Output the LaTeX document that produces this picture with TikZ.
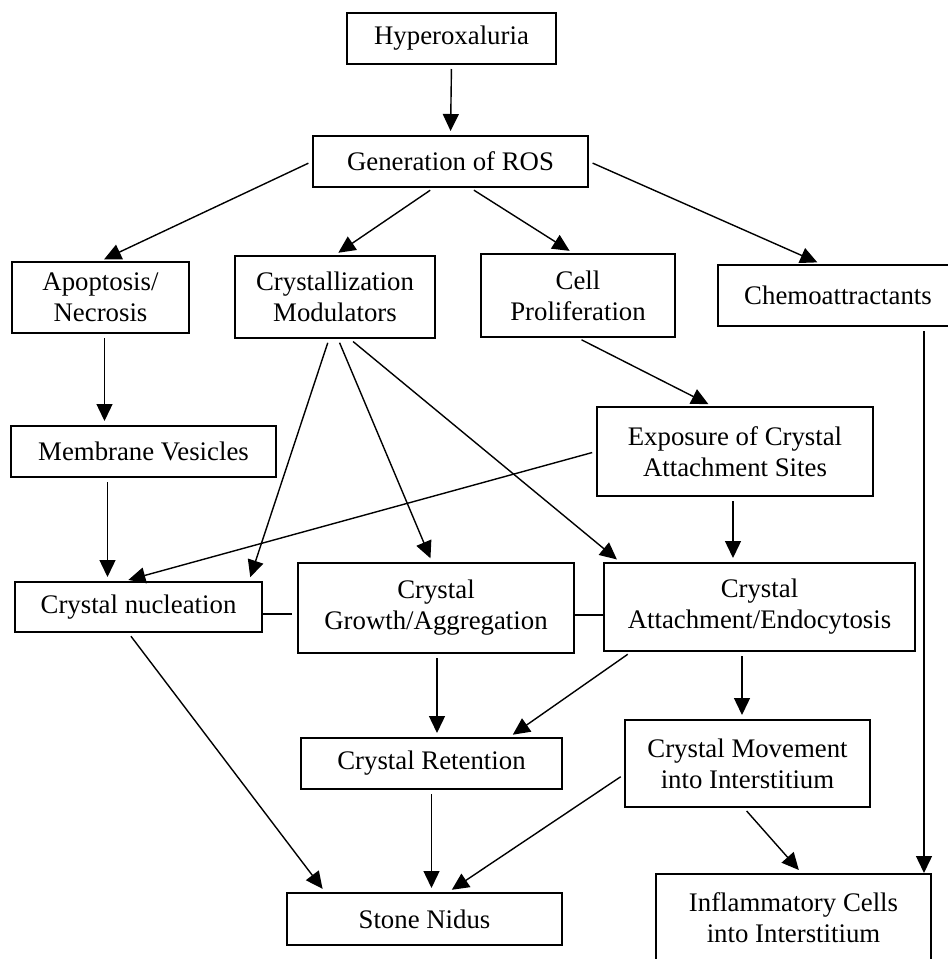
\documentclass[tikz,border=0pt]{standalone}
\usepackage{fontspec}
\setmainfont{Liberation Serif}
\usetikzlibrary{arrows.meta}
\tikzset{
  box/.style={draw, line width=1pt, inner sep=0pt, align=center,
    font=\fontsize{13.4}{15.5}\selectfont},
  arr/.style={-{Triangle[length=8.5pt,width=8pt]}, line width=0.7pt,
    shorten >=2pt, shorten <=2pt},
  link/.style={line width=0.7pt}
}

\begin{document}
\begin{tikzpicture}[x=0.5pt,y=-0.5pt]
\clip (0,0) rectangle (948,959); % picture frame
% top rows
\node[box, minimum width=104.5pt, minimum height=25.5pt] (hyp) at (451.5,38.5) {Hyperoxaluria};
\node[box, minimum width=137.5pt, minimum height=25.5pt] (ros) at (450.5,161.5) {Generation of ROS};
\node[box, minimum width=88.5pt, minimum height=35.5pt] (apo) at (100.5,297.5) {Apoptosis/\\Necrosis};
\node[box, minimum width=100pt, minimum height=41pt] (cm) at (335,297) {Crystallization\\Modulators};
\node[box, minimum width=97pt, minimum height=41.5pt] (cp) at (578,295.5) {Cell\\Proliferation};
\node[box, minimum width=120pt, minimum height=30.5pt] (chemo) at (838,295.5) {Chemoattractants};
% middle rows
\node[box, minimum width=132.5pt, minimum height=25.5pt] (mv) at (143.5,451.5) {Membrane Vesicles};
\node[box, minimum width=138pt, minimum height=44.5pt] (ex) at (735,451.5) {Exposure of Crystal\\Attachment Sites};
\node[box, minimum width=123.5pt, minimum height=25pt] (nuc) at (138.5,607) {Crystal nucleation};
\node[box, minimum width=138pt, minimum height=45pt] (gr) at (436,608) {Crystal\\Growth/Aggregation};
\node[box, minimum width=155.5pt, minimum height=44pt] (at) at (759.5,607) {Crystal\\Attachment/Endocytosis};
% bottom rows
\node[box, minimum width=130.5pt, minimum height=25.5pt] (re) at (431.5,763.5) {Crystal Retention};
\node[box, minimum width=122.5pt, minimum height=43.5pt] (mo) at (747.5,763.5) {Crystal Movement\\into Interstitium};
\node[box, minimum width=137.5pt, minimum height=26pt] (st) at (424.5,919) {Stone Nidus};
\node[box, minimum width=137.5pt, minimum height=44pt] (inf) at (793.5,918) {Inflammatory Cells\\into Interstitium};
% arrows from the top
\draw[arr] (hyp.south) -- (ros.north);
\draw[arr] (ros.west) -- (apo.north);
\draw[arr] ([xshift=-8.5pt]ros.south) -- (cm.north);
\draw[arr] ([xshift=10pt]ros.south) -- ([xshift=-2.5pt]cp.north);
\draw[arr] (ros.east) -- ([xshift=-8.5pt]chemo.north);
\draw[arr] ([xshift=2pt]apo.south) -- ([xshift=2pt]apo.south |- mv.north);
\draw[arr] ([xshift=-18pt]mv.south) -- ([xshift=-18pt]mv.south |- nuc.north);
\draw[arr] ([xshift=-3pt]cm.south) -- ([xshift=-7pt]nuc.north east);
\draw[arr] ([xshift=1.5pt]cm.south) -- ([xshift=-2pt]gr.north);
\draw[arr] ([xshift=7.5pt]cm.south) -- ([xshift=8.5pt]at.north west);
\draw[arr] (cp.south) -- ([xshift=-11.5pt]ex.north);
\draw[arr] (ex.west) -- ([xshift=-7pt]nuc.north);
\draw[arr] ([xshift=-1pt]ex.south) -- ([xshift=-1pt]ex.south |- at.north);
\draw[arr, shorten >=0pt] ([xshift=43pt]chemo.south) -- ([xshift=43pt]chemo.south |- inf.north);
% links between the crystal boxes
\draw[link, shorten >=2.5pt] ([yshift=-3.5pt]nuc.east) -- ([yshift=-3.5pt]nuc.east -| gr.west);
\draw[link] ([yshift=-3.5pt]gr.east) -- ([yshift=-3.5pt]gr.east -| at.west);
% arrows to the bottom
\draw[arr] ([xshift=0.5pt]gr.south) -- ([xshift=0.5pt]gr.south |- re.north);
\draw[arr] ([xshift=14pt]at.south west) -- ([xshift=39pt]re.north);
\draw[arr] ([xshift=-2.75pt]mo.north |- at.south) -- ([xshift=-2.75pt]mo.north);
\draw[arr] ([xshift=-5pt]nuc.south) -- ([xshift=19.5pt]st.north west);
\draw[arr] (re.south) -- (re.south |- st.north);
\draw[arr] ([yshift=-5.5pt]mo.west) -- ([xshift=12pt]st.north);
\draw[arr] ([xshift=-1.75pt]mo.south) -- ([xshift=4pt]inf.north);
\end{tikzpicture}
\end{document}
